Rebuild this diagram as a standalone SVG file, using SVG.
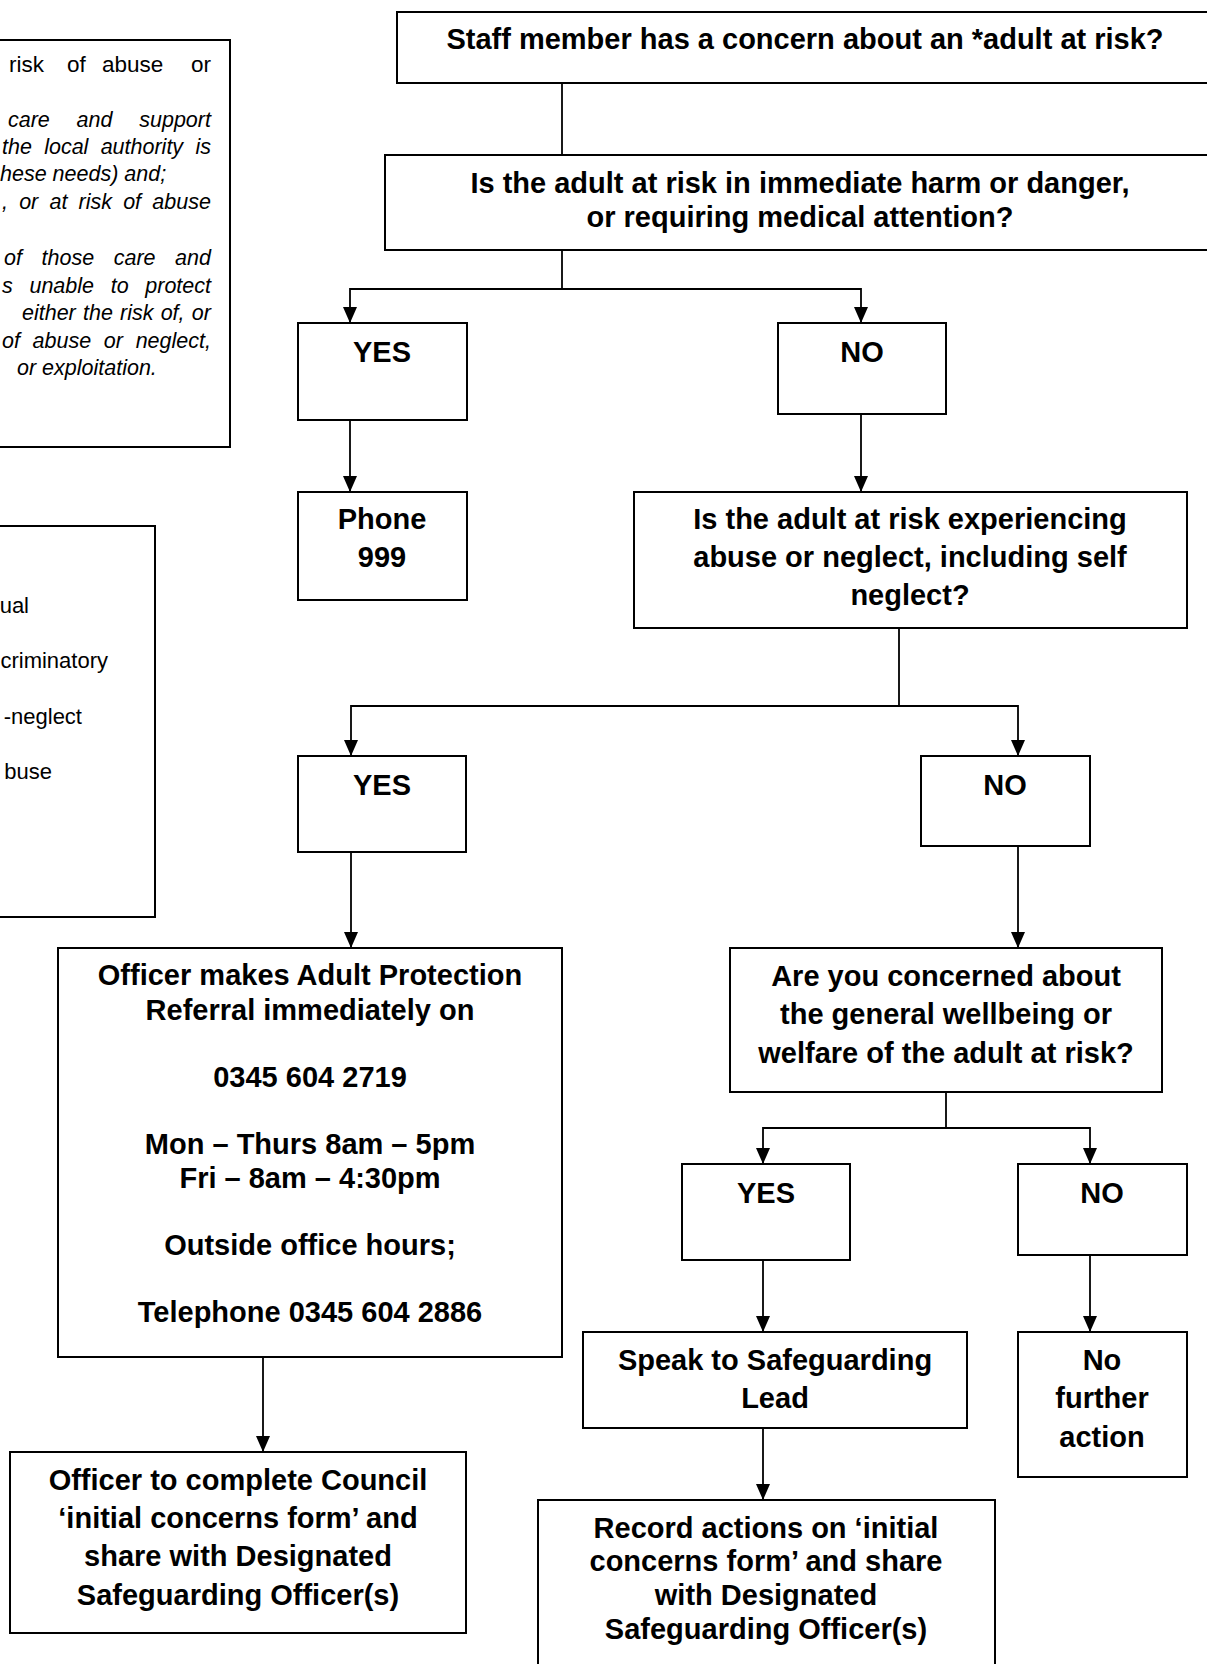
<svg xmlns="http://www.w3.org/2000/svg" width="1207" height="1664" viewBox="0 0 1207 1664">
  <style>
    .box { fill: #ffffff; stroke: #000000; stroke-width: 2; }
    .t { font-family: "Liberation Sans", Arial, Helvetica, sans-serif; font-weight: bold; font-size: 29px; text-anchor: middle; fill: #000000; }
    .conn path { fill: none; stroke: #000000; stroke-width: 1.8; }
    .it { font-family: "Liberation Sans", Arial, Helvetica, sans-serif; font-style: italic; font-size: 21.5px; fill: #000000; }
    .rg { font-family: "Liberation Sans", Arial, Helvetica, sans-serif; font-size: 22px; fill: #000000; }
  </style>
  <defs>
    <marker id="arr" markerUnits="userSpaceOnUse" markerWidth="16" markerHeight="14" refX="16" refY="7" orient="auto">
      <path d="M0,0 L16,7 L0,14 z" fill="#000000"/>
    </marker>
  </defs>
  <rect x="0" y="0" width="1207" height="1664" fill="#ffffff"/>

  <g id="definition-box">
    <rect class="box" x="-300" y="40" width="530" height="407"/>
    <text class="rg" y="72" style="font-size:22.5px"><tspan x="9">risk</tspan><tspan x="67">of</tspan><tspan x="102">abuse</tspan><tspan x="191">or</tspan></text>
    <text class="it" x="8" y="127" word-spacing="20.8">care and support</text>
    <text class="it" x="2" y="154" word-spacing="6.3">the local authority is</text>
    <text class="it" x="0" y="181">hese needs) and;</text>
    <text class="it" x="2" y="209" word-spacing="5.2">, or at risk of abuse</text>
    <text class="it" x="4" y="265" word-spacing="13.6">of those care and</text>
    <text class="it" x="2" y="293" word-spacing="10.7">s unable to protect</text>
    <text class="it" x="22" y="320" word-spacing="1.2">either the risk of, or</text>
    <text class="it" x="2" y="348" word-spacing="6.7">of abuse or neglect,</text>
    <text class="it" x="17" y="375">or exploitation.</text>
  </g>

  <g id="abuse-types-box">
    <rect class="box" x="-300" y="526" width="455" height="391"/>
    <text class="rg" x="29" y="613" text-anchor="end">ual</text>
    <text class="rg" x="108" y="668" text-anchor="end">criminatory</text>
    <text class="rg" x="82" y="724" text-anchor="end">-neglect</text>
    <text class="rg" x="52" y="779" text-anchor="end">buse</text>
  </g>

  <g id="n-concern">
    <rect class="box" x="397" y="12" width="816" height="71"/>
    <text class="t" x="805" y="49">Staff member has a concern about an *adult at risk?</text>
  </g>

  <g id="n-immediate">
    <rect class="box" x="385" y="155" width="828" height="95"/>
    <text class="t" x="800" y="193">Is the adult at risk in immediate harm or danger,</text>
    <text class="t" x="800" y="227">or requiring medical attention?</text>
  </g>

  <g id="n-yes1">
    <rect class="box" x="298" y="323" width="169" height="97"/>
    <text class="t" x="382" y="362">YES</text>
  </g>

  <g id="n-no1">
    <rect class="box" x="778" y="323" width="168" height="91"/>
    <text class="t" x="862" y="362">NO</text>
  </g>

  <g id="n-phone">
    <rect class="box" x="298" y="492" width="169" height="108"/>
    <text class="t" x="382" y="529">Phone</text>
    <text class="t" x="382" y="567">999</text>
  </g>

  <g id="n-abuse">
    <rect class="box" x="634" y="492" width="553" height="136"/>
    <text class="t" x="910" y="529">Is the adult at risk experiencing</text>
    <text class="t" x="910" y="567">abuse or neglect, including self</text>
    <text class="t" x="910" y="605">neglect?</text>
  </g>

  <g id="n-yes2">
    <rect class="box" x="298" y="756" width="168" height="96"/>
    <text class="t" x="382" y="795">YES</text>
  </g>

  <g id="n-no2">
    <rect class="box" x="921" y="756" width="169" height="90"/>
    <text class="t" x="1005" y="795">NO</text>
  </g>

  <g id="n-referral">
    <rect class="box" x="58" y="948" width="504" height="409"/>
    <text class="t" x="310" y="985">Officer makes Adult Protection</text>
    <text class="t" x="310" y="1020">Referral immediately on</text>
    <text class="t" x="310" y="1087">0345 604 2719</text>
    <text class="t" x="310" y="1154">Mon – Thurs 8am – 5pm</text>
    <text class="t" x="310" y="1188">Fri – 8am – 4:30pm</text>
    <text class="t" x="310" y="1255">Outside office hours;</text>
    <text class="t" x="310" y="1322">Telephone 0345 604 2886</text>
  </g>

  <g id="n-wellbeing">
    <rect class="box" x="730" y="948" width="432" height="144"/>
    <text class="t" x="946" y="986">Are you concerned about</text>
    <text class="t" x="946" y="1024">the general wellbeing or</text>
    <text class="t" x="946" y="1063">welfare of the adult at risk?</text>
  </g>

  <g id="n-yes3">
    <rect class="box" x="682" y="1164" width="168" height="96"/>
    <text class="t" x="766" y="1203">YES</text>
  </g>

  <g id="n-no3">
    <rect class="box" x="1018" y="1164" width="169" height="91"/>
    <text class="t" x="1102" y="1203">NO</text>
  </g>

  <g id="n-speak">
    <rect class="box" x="583" y="1332" width="384" height="96"/>
    <text class="t" x="775" y="1370">Speak to Safeguarding</text>
    <text class="t" x="775" y="1408">Lead</text>
  </g>

  <g id="n-nofurther">
    <rect class="box" x="1018" y="1332" width="169" height="145"/>
    <text class="t" x="1102" y="1370">No</text>
    <text class="t" x="1102" y="1408">further</text>
    <text class="t" x="1102" y="1447">action</text>
  </g>

  <g id="n-council-form">
    <rect class="box" x="10" y="1452" width="456" height="181"/>
    <text class="t" x="238" y="1490">Officer to complete Council</text>
    <text class="t" x="238" y="1528">‘initial concerns form’ and</text>
    <text class="t" x="238" y="1566">share with Designated</text>
    <text class="t" x="238" y="1605">Safeguarding Officer(s)</text>
  </g>

  <g id="n-record">
    <rect class="box" x="538" y="1500" width="457" height="200"/>
    <text class="t" x="766" y="1538">Record actions on ‘initial</text>
    <text class="t" x="766" y="1571">concerns form’ and share</text>
    <text class="t" x="766" y="1605">with Designated</text>
    <text class="t" x="766" y="1639">Safeguarding Officer(s)</text>
  </g>

  <g id="connectors" class="conn">
    <path d="M562,83 V155"/>
    <path d="M562,250 V289"/>
    <path d="M562,289 H350 V323" marker-end="url(#arr)"/>
    <path d="M562,289 H861 V323" marker-end="url(#arr)"/>
    <path d="M350,420 V492" marker-end="url(#arr)"/>
    <path d="M861,414 V492" marker-end="url(#arr)"/>
    <path d="M899,628 V706"/>
    <path d="M899,706 H351 V756" marker-end="url(#arr)"/>
    <path d="M899,706 H1018 V756" marker-end="url(#arr)"/>
    <path d="M351,852 V948" marker-end="url(#arr)"/>
    <path d="M1018,846 V948" marker-end="url(#arr)"/>
    <path d="M263,1357 V1452" marker-end="url(#arr)"/>
    <path d="M946,1092 V1128"/>
    <path d="M946,1128 H763 V1164" marker-end="url(#arr)"/>
    <path d="M946,1128 H1090 V1164" marker-end="url(#arr)"/>
    <path d="M763,1260 V1332" marker-end="url(#arr)"/>
    <path d="M1090,1255 V1332" marker-end="url(#arr)"/>
    <path d="M763,1428 V1500" marker-end="url(#arr)"/>
  </g>
</svg>
